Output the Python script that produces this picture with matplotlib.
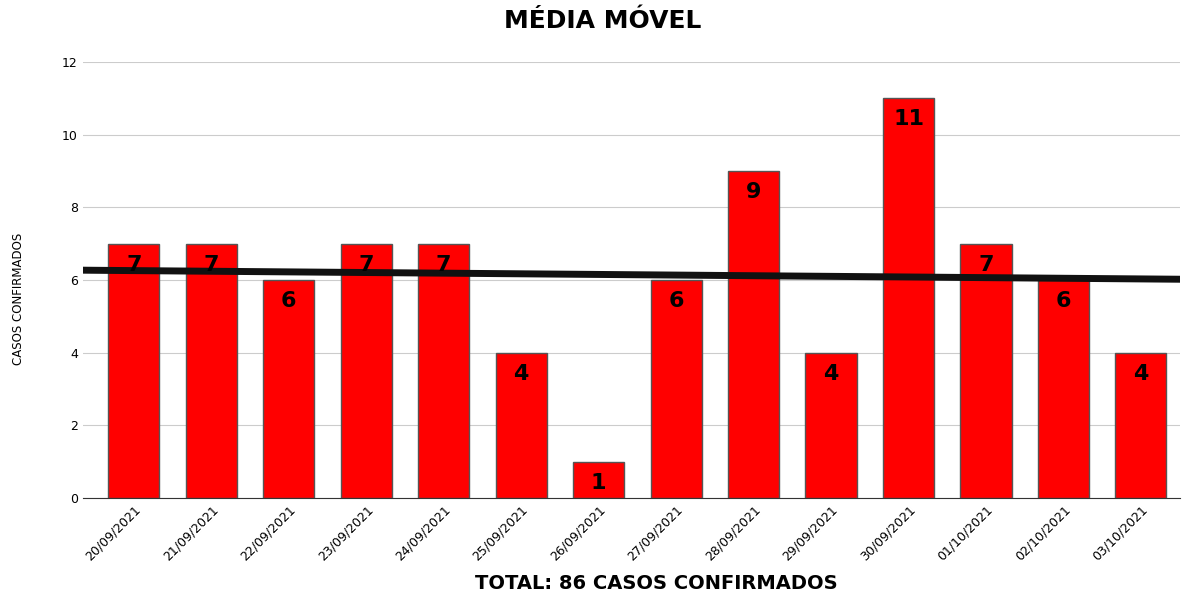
import matplotlib
matplotlib.use('Agg')
import matplotlib.pyplot as plt
import numpy as np

datas = ['20/09/2021', '21/09/2021', '22/09/2021', '23/09/2021', '24/09/2021',
         '25/09/2021', '26/09/2021', '27/09/2021', '28/09/2021', '29/09/2021',
         '30/09/2021', '01/10/2021', '02/10/2021', '03/10/2021']
casos = [7, 7, 6, 7, 7, 4, 1, 6, 9, 4, 11, 7, 6, 4]

fig = plt.figure(figsize=(11.82, 6.04), dpi=100)
ax = fig.add_axes([0.070, 0.1755, 0.928, 0.722])

x = np.arange(len(casos))
ax.bar(x, casos, width=0.66, color='#ff0000', edgecolor='#555555', linewidth=1, zorder=2)
for xi, v in zip(x, casos):
    ax.text(xi, v - 0.3, str(v), ha='center', va='top', fontsize=16, fontweight='bold', zorder=4)

xl = (-0.66, 13.5)
a, b = np.polyfit(x, casos, 1)
xs = np.array(xl)
ax.plot(xs, a * xs + b, color='#111111', linewidth=5, zorder=3)

ax.set_xlim(*xl)
ax.set_ylim(0, 12)
ax.set_yticks(range(0, 13, 2))
ax.set_xticks(x)
ax.set_xticklabels(datas, rotation=45, ha='right', rotation_mode='anchor', fontsize=9)
ax.tick_params(axis='y', labelsize=9, length=0)
ax.tick_params(axis='x', length=0)
ax.grid(axis='y', color='#cccccc', linewidth=0.8, zorder=0)
for s in ['left', 'right', 'top']:
    ax.spines[s].set_visible(False)
ax.spines['bottom'].set_color('#333333')

fig.text(0.016, 0.505, 'CASOS CONFIRMADOS', rotation=90, ha='center', va='center', fontsize=8.5)
fig.text(0.51, 0.965, 'MÉDIA MÓVEL', ha='center', va='center', fontsize=18, fontweight='bold')
fig.text(0.555, 0.018, 'TOTAL: 86 CASOS CONFIRMADOS', ha='center', va='bottom', fontsize=14, fontweight='bold')

fig.savefig('out.png', dpi=100)
